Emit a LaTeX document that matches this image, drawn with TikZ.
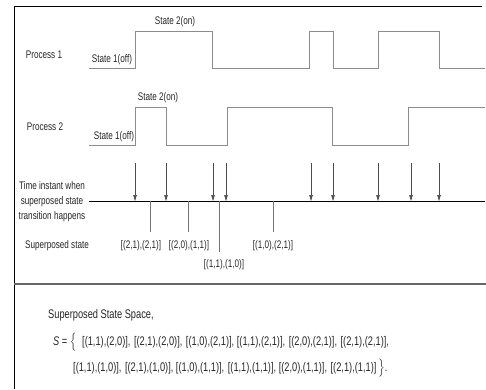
\documentclass[tikz,border=0pt]{standalone}
\usepackage{fontspec}
\setmainfont[FakeStretch=0.74]{Liberation Sans}
\usetikzlibrary{arrows.meta}

\begin{document}
\begin{tikzpicture}[x=1pt,y=-1pt,
  wave/.style={draw=black!45,line width=0.9pt},
  tarrow/.style={draw=black!70,line width=0.6pt,-{Triangle[length=6pt,width=3.5pt]}},
  tick/.style={draw=black!55,line width=0.7pt},
  lbl/.style={font=\fontsize{11}{13}\selectfont,inner sep=1pt,text=black!85},
  big/.style={font=\fontsize{12.5}{14}\selectfont,inner sep=0pt,anchor=west,text=black!85}]
\useasboundingbox (0,0) rectangle (486,389);
% frame
\draw[line width=1pt] (14,389) -- (14,6) -- (482,6);
\draw[black!60,line width=1.2pt] (14,284) -- (486,284);
% process 1
\draw[wave] (89,68) -- (135,68) -- (135,31) -- (212,31) -- (212,68) -- (309,68) -- (309,31)
   -- (333,31) -- (333,68) -- (378,68) -- (378,31) -- (439,31) -- (439,68) -- (485,68);
\node[lbl] (p1) at (44,55) {Process 1};
\node[lbl] (p1off) at (112,60) {State 1(off)};
\node[lbl] (p1on) at (175,22) {State 2(on)};
% process 2
\draw[wave] (89,145) -- (135,145) -- (135,107) -- (166,107) -- (166,145) -- (227,145) -- (227,107)
   -- (332,107) -- (332,145) -- (408,145) -- (408,107) -- (485,107);
\node[lbl] (p2) at (45,127) {Process 2};
\node[lbl] (p2off) at (114,137) {State 1(off)};
\node[lbl] (p2on) at (158,98) {State 2(on)};
% time line
\coordinate (tl0) at (89,201);
\coordinate (tl1) at (485,201);
\draw[line width=0.9pt] (tl0) -- (tl1);
\node[lbl,align=center,font=\fontsize{11}{15}\selectfont] (tinst) at (52,202)
   {Time instant when\\superposed state\\transition happens};
\foreach \x in {135,166,213,226,311,333,378,411,439} {
   \draw[tarrow] (\x,163) -- (\x,201);
}
\foreach \x/\y in {150/232,188/232,219/252,273/232} {
   \draw[tick] (\x,201) -- (\x,\y);
}
\node[lbl] (sup) at (57,246) {Superposed state};
\node[lbl] (s1) at (141,246) {[(2,1),(2,1)]};
\node[lbl] (s2) at (189,246) {[(2,0),(1,1)]};
\node[lbl] (s3) at (224,265) {[(1,1),(1,0)]};
\node[lbl] (s4) at (273,246) {[(1,0),(2,1)]};
% state space
\node[big] (sss) at (48,315) {Superposed State Space,};
\node[big] (S) at (53,342) {\textit{S} = $\Big\{$};
\node[big] (row1) at (82,342) {[(1,1),(2,0)],\ \hspace{1pt}[(2,1),(2,0)],\ \hspace{1pt}[(1,0),(2,1)],\ [(1,1),(2,1)],\ \hspace{1pt}[(2,0),(2,1)],\ \hspace{1pt}[(2,1),(2,1)],};
\node[big] (row2) at (73,368) {[(1,1),(1,0)],\ \hspace{1pt}[(2,1),(1,0)],\ [(1,0),(1,1)],\ \hspace{1pt}[(1,1),(1,1)],\ [(2,0),(1,1)],\ \hspace{1pt}[(2,1),(1,1)]};
\node[big] (close) at (378,368) {$\Big\}$.};
\end{tikzpicture}
\end{document}
